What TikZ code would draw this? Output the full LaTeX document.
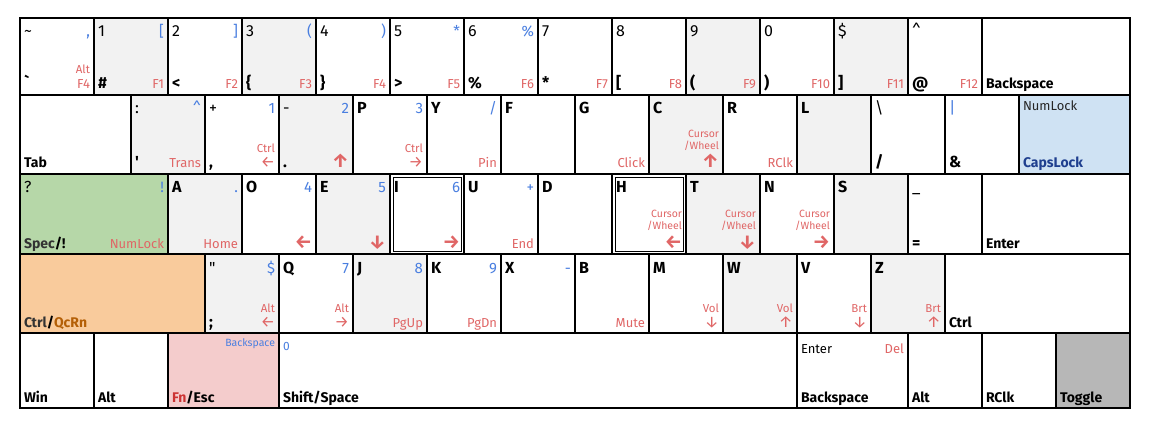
\documentclass[tikz,border=0pt]{standalone}
\usepackage{fontspec}
\setmainfont{Fira Sans}
\definecolor{kgray}{HTML}{F2F2F2}
\definecolor{kblue}{HTML}{CFE2F3}
\definecolor{kgreen}{HTML}{B6D7A8}
\definecolor{korange}{HTML}{F9CB9C}
\definecolor{kpink}{HTML}{F4CCCC}
\definecolor{kdark}{HTML}{B7B7B7}
\definecolor{tblue}{HTML}{4A7FE0}
\definecolor{tred}{HTML}{E06666}
\definecolor{tnavy}{HTML}{1F3F8F}
\definecolor{tbrown}{HTML}{B45F06}
\definecolor{tfn}{HTML}{CC3333}
\tikzset{
  keyline/.style={draw=black,line width=1.2pt},
  lab/.style={inner sep=0pt,outer sep=0pt},
  tlsym/.style={lab,anchor=base west,font=\fontsize{16}{16}\selectfont},
  tllet/.style={lab,anchor=base west,font=\fontsize{16}{16}\selectfont\bfseries},
  trblue/.style={lab,anchor=base east,text=tblue,font=\fontsize{15}{15}\selectfont},
  bllab/.style={lab,anchor=base west,font=\fontsize{14}{14}\selectfont\bfseries},
  blsym/.style={lab,anchor=base west,font=\fontsize{16}{16}\selectfont\bfseries},
  brred/.style={lab,anchor=base east,text=tred,font=\fontsize{13}{13}\selectfont},
  mrred/.style={lab,anchor=base east,text=tred,font=\fontsize{11.5}{11.5}\selectfont},
  cwred/.style={lab,anchor=base east,text=tred,font=\fontsize{10.5}{10.5}\selectfont},
  arthin/.style={lab,anchor=base east,text=tred,font=\fontsize{16}{16}\selectfont},
  arbold/.style={lab,anchor=base east,text=tred,font=\fontsize{19}{19}\selectfont\bfseries},
}
\newcommand\kbkey[6]{%
  \draw[keyline,fill=#6] (#2,#3) rectangle (#4,#5);
  \coordinate (#1tl) at (#2+4,#3+19);
  \coordinate (#1tr) at (#4-4,#3+19);
  \coordinate (#1bl) at (#2+4,#5-6);
  \coordinate (#1br) at (#4-4,#5-6);
  \coordinate (#1mr) at (#4-4,#5-21);
  \coordinate (#1ca) at (#4-4,#5-36);
  \coordinate (#1cb) at (#4-4,#5-24);
}
\newcommand\kTLs[2]{\node[tlsym] (#1-TL) at (#1tl) {#2};}
\newcommand\kTLb[2]{\node[tllet] (#1-TL) at (#1tl) {#2};}
\newcommand\kTR[2]{\node[trblue] (#1-TR) at (#1tr) {#2};}
\newcommand\kBL[2]{\node[bllab] (#1-BL) at (#1bl) {#2};}
\newcommand\kBLs[2]{\node[blsym] (#1-BL) at (#1bl) {#2};}
\newcommand\kBR[2]{\node[brred] (#1-BR) at (#1br) {#2};}
\newcommand\kMR[2]{\node[mrred] (#1-MR) at (#1mr) {#2};}
\newcommand\kAR[2]{\node[arthin] (#1-AR) at (#1br) {#2};}
\newcommand\kARb[2]{\node[arbold] (#1-AR) at (#1br) {#2};}
\newcommand\kCW[1]{\node[cwred] (#1-CA) at (#1ca) {Cursor};\node[cwred] (#1-CB) at (#1cb) {/Wheel};}
\begin{document}
\begin{tikzpicture}[x=1pt,y=-1pt]
\useasboundingbox (0,0) rectangle (1150,430);
\fill[white] (0,0) rectangle (1150,430);
% ---------- row 1
\kbkey{a1}{20}{18}{94}{95}{white}
\kTLs{a1}{\textasciitilde}\kTR{a1}{,}\kBLs{a1}{\textasciigrave}\kMR{a1}{Alt}\kBR{a1}{F4}
\kbkey{a2}{94}{18}{168}{95}{kgray}
\kTLs{a2}{1}\kTR{a2}{[}\kBLs{a2}{\#}\kBR{a2}{F1}
\kbkey{a3}{168}{18}{242}{95}{white}
\kTLs{a3}{2}\kTR{a3}{]}\kBLs{a3}{<}\kBR{a3}{F2}
\kbkey{a4}{242}{18}{316}{95}{kgray}
\kTLs{a4}{3}\kTR{a4}{(}\kBLs{a4}{\{}\kBR{a4}{F3}
\kbkey{a5}{316}{18}{390}{95}{white}
\kTLs{a5}{4}\kTR{a5}{)}\kBLs{a5}{\}}\kBR{a5}{F4}
\kbkey{a6}{390}{18}{464}{95}{white}
\kTLs{a6}{5}\kTR{a6}{*}\kBLs{a6}{>}\kBR{a6}{F5}
\kbkey{a7}{464}{18}{538}{95}{white}
\kTLs{a7}{6}\kTR{a7}{\%}\kBLs{a7}{\%}\kBR{a7}{F6}
\kbkey{a8}{538}{18}{612}{95}{white}
\kTLs{a8}{7}\kBLs{a8}{*}\kBR{a8}{F7}
\kbkey{a9}{612}{18}{686}{95}{white}
\kTLs{a9}{8}\kBLs{a9}{[}\kBR{a9}{F8}
\kbkey{a10}{686}{18}{760}{95}{kgray}
\kTLs{a10}{9}\kBLs{a10}{(}\kBR{a10}{F9}
\kbkey{a11}{760}{18}{834}{95}{white}
\kTLs{a11}{0}\kBLs{a11}{)}\kBR{a11}{F10}
\kbkey{a12}{834}{18}{908}{95}{kgray}
\kTLs{a12}{\$}\kBLs{a12}{]}\kBR{a12}{F11}
\kbkey{a13}{908}{18}{982}{95}{white}
\kTLs{a13}{\textasciicircum}\kBLs{a13}{@}\kBR{a13}{F12}
\kbkey{a14}{982}{18}{1130}{95}{white}
\kBL{a14}{Backspace}
% ---------- row 2
\kbkey{b1}{20}{95}{131}{174}{white}
\kBL{b1}{Tab}
\kbkey{b2}{131}{95}{205}{174}{kgray}
\kTLs{b2}{:}\kTR{b2}{\textasciicircum}\kBLs{b2}{\textquotesingle}\kBR{b2}{Trans}
\kbkey{b3}{205}{95}{279}{174}{white}
\kTLs{b3}{+}\kTR{b3}{1}\kBLs{b3}{,}\kMR{b3}{Ctrl}\kAR{b3}{←}
\kbkey{b4}{279}{95}{353}{174}{kgray}
\kTLs{b4}{-}\kTR{b4}{2}\kBLs{b4}{.}\kARb{b4}{↑}
\kbkey{b5}{353}{95}{427}{174}{white}
\kTLb{b5}{P}\kTR{b5}{3}\kMR{b5}{Ctrl}\kAR{b5}{→}
\kbkey{b6}{427}{95}{501}{174}{white}
\kTLb{b6}{Y}\kTR{b6}{/}\kBR{b6}{Pin}
\kbkey{b7}{501}{95}{575}{174}{white}
\kTLb{b7}{F}
\kbkey{b8}{575}{95}{649}{174}{white}
\kTLb{b8}{G}\kBR{b8}{Click}
\kbkey{b9}{649}{95}{723}{174}{kgray}
\kTLb{b9}{C}\kCW{b9}\kARb{b9}{↑}
\kbkey{b10}{723}{95}{797}{174}{white}
\kTLb{b10}{R}\kBR{b10}{RClk}
\kbkey{b11}{797}{95}{871}{174}{kgray}
\kTLb{b11}{L}
\kbkey{b12}{871}{95}{945}{174}{white}
\kTLs{b12}{\textbackslash}\kBLs{b12}{/}
\kbkey{b13}{945}{95}{1019}{174}{white}
\node[tlsym,text=tblue] (b13-TL) at (b13tl) {|};\kBLs{b13}{\&}
\kbkey{b14}{1019}{95}{1130}{174}{kblue}
\node[lab,anchor=base west,font=\fontsize{13}{13}\selectfont,text=black!85] (b14-TL) at (1023,111) {NumLock};
\node[bllab,text=tnavy] (b14-BL) at (b14bl) {CapsLock};
% ---------- row 3
\kbkey{c1}{20}{174}{168}{254}{kgreen}
\kTLs{c1}{?}\kTR{c1}{!}\node[bllab] (c1-BL) at (c1bl) {\textcolor{black!80}{Spec}/!};\kBR{c1}{NumLock}
\kbkey{c2}{168}{174}{242}{254}{kgray}
\kTLb{c2}{A}\kTR{c2}{.}\kBR{c2}{Home}
\kbkey{c3}{242}{174}{316}{254}{white}
\kTLb{c3}{O}\kTR{c3}{4}\kARb{c3}{←}
\kbkey{c4}{316}{174}{390}{254}{kgray}
\kTLb{c4}{E}\kTR{c4}{5}\kARb{c4}{↓}
\kbkey{c5}{390}{174}{464}{254}{white}
\draw[draw=black,line width=0.9pt] (393,177) rectangle (461,251);
\kTLb{c5}{I}\kTR{c5}{6}\kARb{c5}{→}
\kbkey{c6}{464}{174}{538}{254}{white}
\kTLb{c6}{U}\kTR{c6}{+}\kBR{c6}{End}
\kbkey{c7}{538}{174}{612}{254}{white}
\kTLb{c7}{D}
\kbkey{c8}{612}{174}{686}{254}{white}
\draw[draw=black,line width=0.9pt] (615,177) rectangle (683,251);
\kTLb{c8}{H}\kCW{c8}\kARb{c8}{←}
\kbkey{c9}{686}{174}{760}{254}{kgray}
\kTLb{c9}{T}\kCW{c9}\kARb{c9}{↓}
\kbkey{c10}{760}{174}{834}{254}{white}
\kTLb{c10}{N}\kCW{c10}\kARb{c10}{→}
\kbkey{c11}{834}{174}{908}{254}{kgray}
\kTLb{c11}{S}
\kbkey{c12}{908}{174}{982}{254}{white}
\kTLs{c12}{\_}\kBLs{c12}{=}
\kbkey{c13}{982}{174}{1130}{254}{white}
\kBL{c13}{Enter}
% ---------- row 4
\kbkey{d1}{20}{254}{205}{333}{korange}
\node[bllab] (d1-BL) at (d1bl) {\textcolor{black!80}{Ctrl}/\textcolor{tbrown}{QcRn}};
\kbkey{d2}{205}{254}{279}{333}{kgray}
\kTLs{d2}{\textquotedbl}\kTR{d2}{\$}\kBLs{d2}{;}\kMR{d2}{Alt}\kAR{d2}{←}
\kbkey{d3}{279}{254}{353}{333}{white}
\kTLb{d3}{Q}\kTR{d3}{7}\kMR{d3}{Alt}\kAR{d3}{→}
\kbkey{d4}{353}{254}{427}{333}{kgray}
\kTLb{d4}{J}\kTR{d4}{8}\kBR{d4}{PgUp}
\kbkey{d5}{427}{254}{501}{333}{white}
\kTLb{d5}{K}\kTR{d5}{9}\kBR{d5}{PgDn}
\kbkey{d6}{501}{254}{575}{333}{white}
\kTLb{d6}{X}\kTR{d6}{-}
\kbkey{d7}{575}{254}{649}{333}{white}
\kTLb{d7}{B}\kBR{d7}{Mute}
\kbkey{d8}{649}{254}{723}{333}{white}
\kTLb{d8}{M}\kMR{d8}{Vol}\kAR{d8}{↓}
\kbkey{d9}{723}{254}{797}{333}{kgray}
\kTLb{d9}{W}\kMR{d9}{Vol}\kAR{d9}{↑}
\kbkey{d10}{797}{254}{871}{333}{white}
\kTLb{d10}{V}\kMR{d10}{Brt}\kAR{d10}{↓}
\kbkey{d11}{871}{254}{945}{333}{kgray}
\kTLb{d11}{Z}\kMR{d11}{Brt}\kAR{d11}{↑}
\kbkey{d12}{945}{254}{1130}{333}{white}
\kBL{d12}{Ctrl}
% ---------- row 5
\kbkey{e1}{20}{333}{94}{408}{white}
\kBL{e1}{Win}
\kbkey{e2}{94}{333}{168}{408}{white}
\kBL{e2}{Alt}
\kbkey{e3}{168}{333}{279}{408}{kpink}
\node[lab,anchor=base east,text=tblue,font=\fontsize{10.5}{10.5}\selectfont] (e3-TR) at (275,346) {Backspace};
\node[bllab] (e3-BL) at (e3bl) {\textcolor{tfn}{Fn}/Esc};
\kbkey{e4}{279}{333}{797}{408}{white}
\node[lab,anchor=base west,text=tblue,font=\fontsize{12}{12}\selectfont] (e4-TL) at (283,350) {0};
\kBL{e4}{Shift/Space}
\kbkey{e5}{797}{333}{908}{408}{white}
\node[lab,anchor=base west,font=\fontsize{13}{13}\selectfont] (e5-TL) at (801,353) {Enter};
\node[brred] (e5-TR) at (904,353) {Del};
\kBL{e5}{Backspace}
\kbkey{e6}{908}{333}{982}{408}{white}
\kBL{e6}{Alt}
\kbkey{e7}{982}{333}{1056}{408}{white}
\kBL{e7}{RClk}
\kbkey{e8}{1056}{333}{1130}{408}{kdark}
\kBL{e8}{Toggle}
% outer frame
\draw[line width=2.4pt] (20,18) rectangle (1130,408);
\end{tikzpicture}
\end{document}
